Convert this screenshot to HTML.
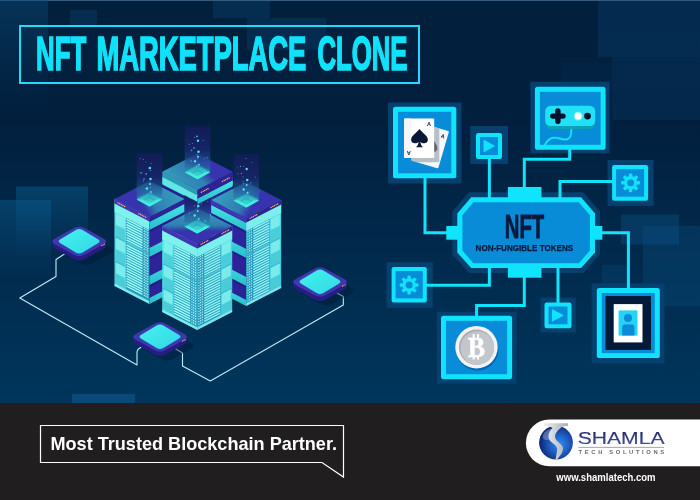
<!DOCTYPE html>
<html><head><meta charset="utf-8">
<style>
html,body{margin:0;padding:0;background:#201e1f;}
body{width:700px;height:500px;overflow:hidden;font-family:"Liberation Sans",sans-serif;}
svg{display:block;will-change:transform;}
text{font-family:"Liberation Sans",sans-serif;}
</style></head><body>
<svg width="700" height="500" viewBox="0 0 700 500">
<defs>
<linearGradient id="bg" x1="0" y1="0" x2="0" y2="1">
<stop offset="0" stop-color="#02203c"/>
<stop offset="0.3" stop-color="#021f3e"/>
<stop offset="1" stop-color="#00365c"/>
</linearGradient>
<linearGradient id="bgl" x1="0" y1="0" x2="0" y2="1">
<stop offset="0" stop-color="#0a4a78" stop-opacity="0.45"/>
<stop offset="1" stop-color="#0a4a78" stop-opacity="0"/>
</linearGradient>
<linearGradient id="sqf" x1="0" y1="0" x2="0" y2="1">
<stop offset="0" stop-color="#0a5a8c" stop-opacity="0.5"/>
<stop offset="1" stop-color="#0a5a8c" stop-opacity="0"/>
</linearGradient>
<radialGradient id="sph" cx="0.6" cy="0.55" r="0.62">
<stop offset="0" stop-color="#2f8cec"/><stop offset="0.45" stop-color="#1f5fc4"/><stop offset="1" stop-color="#0b1f6a"/>
</radialGradient>
<linearGradient id="silv" x1="0" y1="0" x2="1" y2="0">
<stop offset="0" stop-color="#eef0f2"/><stop offset="0.5" stop-color="#cdd0d5"/><stop offset="1" stop-color="#a6aab2"/>
</linearGradient>
<linearGradient id="shm" x1="0" y1="0" x2="0" y2="1">
<stop offset="0" stop-color="#1a1f5c"/><stop offset="1" stop-color="#4a58a8"/>
</linearGradient>
</defs>
<!-- BACKGROUND -->
<rect x="0" y="0" width="700" height="404" fill="url(#bg)"/>
<rect x="0" y="0" width="700" height="1" fill="#3f6d8e" opacity="0.8"/>
<rect x="0" y="0" width="48" height="105" fill="url(#bgl)"/>
<g id="bgsquares">
<rect x="70" y="10" width="27" height="15" fill="#0b4f86" opacity="0.28"/>
<rect x="213" y="1" width="57" height="17" fill="#0b4f86" opacity="0.28"/>
<rect x="247" y="18" width="79" height="32" fill="#0b4f86" opacity="0.25"/>
<rect x="598" y="1" width="102" height="56" fill="#0b4f86" opacity="0.26"/>
<rect x="612" y="57" width="88" height="63" fill="#0b4f86" opacity="0.2"/>
<rect x="561" y="63" width="51" height="30" fill="#0b4f86" opacity="0.1"/>
<rect x="16" y="186.600" width="72" height="70" fill="url(#sqf)"/>
<rect x="0" y="200" width="51" height="78" fill="url(#sqf)"/>
<rect x="621" y="214.500" width="58" height="30" fill="#0c5288" opacity="0.40"/>
<rect x="643" y="226" width="57" height="80" fill="#0c5288" opacity="0.30"/>
<rect x="602" y="265" width="28" height="20" fill="#0c5288" opacity="0.25"/>
<rect x="72" y="394" width="63" height="9" fill="#0c5a92" opacity="0.55"/>
</g>
<!-- TITLE -->
<rect x="20" y="26" width="399" height="57" fill="none" stroke="#1fdcf8" stroke-width="2"/>
<g id="title" font-size="47.4" font-weight="bold" fill="#10e2fb" stroke="#10e2fb" stroke-width="1.7" stroke-linejoin="miter">
<text x="36" y="69.5" textLength="50.2" lengthAdjust="spacingAndGlyphs">NFT</text>
<text x="96.4" y="69.5" textLength="210" lengthAdjust="spacingAndGlyphs">MARKETPLACE</text>
<text x="317.4" y="69.5" textLength="90" lengthAdjust="spacingAndGlyphs">CLONE</text>
</g>
<!-- SERVERS -->
<g id="servers">
<defs>
<linearGradient id="lfg" x1="0" y1="0" x2="0" y2="1"><stop offset="0" stop-color="#58e8e6"/><stop offset="1" stop-color="#3fd2d8"/></linearGradient>
<linearGradient id="rfc" x1="0" y1="0" x2="0" y2="1"><stop offset="0" stop-color="#49dae0"/><stop offset="1" stop-color="#38c6d6"/></linearGradient>
<linearGradient id="rfp" x1="0" y1="0" x2="0" y2="1"><stop offset="0" stop-color="#3026a0"/><stop offset="1" stop-color="#2a2296"/></linearGradient>
<linearGradient id="band" x1="0" y1="0" x2="0" y2="1"><stop offset="0" stop-color="#45e6e2"/><stop offset="1" stop-color="#28bccc"/></linearGradient>
<linearGradient id="topgR" x1="0" y1="0.65" x2="1" y2="0.35"><stop offset="0" stop-color="#3b31b2"/><stop offset="0.36" stop-color="#3634ac"/><stop offset="0.52" stop-color="#2f7fb2"/><stop offset="1" stop-color="#37a4c0"/></linearGradient>
<linearGradient id="topgL" x1="1" y1="0.65" x2="0" y2="0.35"><stop offset="0" stop-color="#3b31b2"/><stop offset="0.36" stop-color="#3634ac"/><stop offset="0.52" stop-color="#2f7fb2"/><stop offset="1" stop-color="#37a4c0"/></linearGradient>
<linearGradient id="topgB" x1="0.5" y1="1" x2="0.5" y2="0"><stop offset="0" stop-color="#3b31b2"/><stop offset="0.36" stop-color="#3634ac"/><stop offset="0.52" stop-color="#2f7fb2"/><stop offset="1" stop-color="#37a4c0"/></linearGradient>
<linearGradient id="topgF" x1="1" y1="0.3" x2="0" y2="0.8"><stop offset="0" stop-color="#3b31b2"/><stop offset="0.36" stop-color="#3634ac"/><stop offset="0.52" stop-color="#2f7fb2"/><stop offset="1" stop-color="#37a4c0"/></linearGradient>
<linearGradient id="beam" x1="0" y1="0" x2="0" y2="1"><stop offset="0" stop-color="#131c58" stop-opacity="0.9"/><stop offset="0.45" stop-color="#18256c" stop-opacity="0.85"/><stop offset="0.76" stop-color="#2468a2" stop-opacity="0.6"/><stop offset="1" stop-color="#38dcd8" stop-opacity="0.35"/></linearGradient>
<linearGradient id="padtop" x1="0" y1="0" x2="1" y2="1"><stop offset="0" stop-color="#44f2ee"/><stop offset="1" stop-color="#30d8e4"/></linearGradient>
</defs>
<g fill="none" stroke="#b4f2f8" stroke-width="1.1" stroke-linejoin="round">
<path d="M66 253L56 259.500V276.500L19.800 298L137 365V352Q137 349 142.700 346.500"/>
<path d="M174.300 348L182.500 353V366L210.300 381L343.300 305V296.400L336 292.500"/>
</g>
<path d="M61.9 253.3Q56.6 250.4 61.9 247.5L80.9 237.1Q86.2 234.2 91.5 237.1L110.5 247.5Q115.8 250.4 110.5 253.3L91.5 263.7Q86.2 266.6 80.9 263.7Z" fill="#011631" opacity="0.4"/>
<path d="M54.9 248.8Q49.6 245.9 54.9 243.0L73.9 232.6Q79.2 229.7 84.5 232.6L103.5 243.0Q108.8 245.9 103.5 248.8L84.5 259.2Q79.2 262.1 73.9 259.2Z" fill="#251d80"/>
<path d="M52.8 241.4V245.9H105.6V241.4Z" fill="#251d80"/>
<path d="M54.9 244.3Q49.6 241.4 54.9 238.5L73.9 228.1Q79.2 225.2 84.5 228.1L103.5 238.5Q108.8 241.4 103.5 244.3L84.5 254.7Q79.2 257.6 73.9 254.7Z" fill="#3d38b0"/>
<path d="M60.4 243.2Q57.0 241.2 60.4 239.2L75.8 230.0Q79.2 228.0 82.6 230.0L98.0 239.2Q101.4 241.2 98.0 243.2L82.6 252.4Q79.2 254.4 75.8 252.4Z" fill="url(#padtop)"/>
<circle cx="101.8" cy="245.6" r="0.6" fill="#ffb46a"/>
<circle cx="103.1" cy="244.9" r="0.6" fill="#ffb46a"/>
<circle cx="104.4" cy="244.2" r="0.6" fill="#ffb46a"/>
<path d="M162.5 171.7L197.5 189.7L197.5 276.7L162.5 258.7Z" fill="url(#rfp)"/>
<path d="M162.5 176.7L197.5 194.7L197.5 202.7L162.5 184.7Z" fill="url(#band)"/>
<path d="M162.5 184.7L197.5 202.7L197.5 205.2L162.5 187.2Z" fill="#1f1a78" opacity="0.55"/>
<path d="M162.5 202.7L197.5 220.7L197.5 229.7L162.5 211.7Z" fill="url(#band)"/>
<path d="M162.5 211.7L197.5 229.7L197.5 232.2L162.5 214.2Z" fill="#1f1a78" opacity="0.55"/>
<path d="M162.5 230.7L197.5 248.7L197.5 257.7L162.5 239.7Z" fill="url(#band)"/>
<path d="M162.5 239.7L197.5 257.7L197.5 260.2L162.5 242.2Z" fill="#1f1a78" opacity="0.55"/>
<path d="M162.5 252.7L197.5 270.7L197.5 276.7L162.5 258.7Z" fill="url(#band)"/>
<path d="M162.5 258.7L197.5 276.7L197.5 276.7L162.5 258.7Z" fill="#1f1a78" opacity="0.55"/>
<path d="M232.5 171.7L197.5 189.7L197.5 276.7L232.5 258.7Z" fill="url(#rfp)"/>
<path d="M232.5 176.7L197.5 194.7L197.5 202.7L232.5 184.7Z" fill="url(#band)"/>
<path d="M232.5 184.7L197.5 202.7L197.5 205.2L232.5 187.2Z" fill="#1f1a78" opacity="0.55"/>
<path d="M232.5 202.7L197.5 220.7L197.5 229.7L232.5 211.7Z" fill="url(#band)"/>
<path d="M232.5 211.7L197.5 229.7L197.5 232.2L232.5 214.2Z" fill="#1f1a78" opacity="0.55"/>
<path d="M232.5 230.7L197.5 248.7L197.5 257.7L232.5 239.7Z" fill="url(#band)"/>
<path d="M232.5 239.7L197.5 257.7L197.5 260.2L232.5 242.2Z" fill="#1f1a78" opacity="0.55"/>
<path d="M232.5 252.7L197.5 270.7L197.5 276.7L232.5 258.7Z" fill="url(#band)"/>
<path d="M232.5 258.7L197.5 276.7L197.5 276.7L232.5 258.7Z" fill="#1f1a78" opacity="0.55"/>
<path d="M162.5 171.7L197.5 189.7L197.5 194.2L162.5 176.2Z" fill="#4036b4"/>
<path d="M232.5 171.7L197.5 189.7L197.5 194.2L232.5 176.2Z" fill="#2c2394"/>
<path d="M162.5 171.7L197.5 189.7L197.5 195.2L162.5 177.2Z" fill="#2c9cb4"/>
<path d="M162.5 177.2L197.5 195.2L197.5 201.7L162.5 183.7Z" fill="#62e6e4"/>
<path d="M232.5 171.7L197.5 189.7L197.5 198.7L232.5 180.7Z" fill="#2c2394"/>
<path d="M232.5 180.7L197.5 198.7L197.5 204.2L232.5 186.2Z" fill="url(#band)"/>
<circle cx="229.0" cy="178.0" r="0.75" fill="#ffb066"/>
<circle cx="227.4" cy="178.8" r="0.75" fill="#ffb066"/>
<circle cx="225.7" cy="179.7" r="0.75" fill="#ffb066"/>
<circle cx="224.1" cy="180.5" r="0.75" fill="#ffb066"/>
<circle cx="222.4" cy="181.4" r="0.75" fill="#ffb066"/>
<circle cx="208.0" cy="188.8" r="0.75" fill="#ffb066"/>
<circle cx="206.4" cy="189.6" r="0.75" fill="#ffb066"/>
<circle cx="204.7" cy="190.5" r="0.75" fill="#ffb066"/>
<circle cx="203.1" cy="191.3" r="0.75" fill="#ffb066"/>
<circle cx="201.4" cy="192.2" r="0.75" fill="#ffb066"/>
<path d="M162.5 171.7L197.5 153.7L232.5 171.7L197.5 189.7Z" fill="url(#topgF)"/>
<path d="M184.7 170.7L197.5 163.7L210.3 170.7L197.5 177.7Z" fill="#1d8fae"/>
<path d="M184.7 172.2L197.5 165.2L210.3 172.2L197.5 179.2Z" fill="#3cefe0"/>
<path d="M191.5 173.2L197.5 170.2L203.5 173.2L197.5 176.2Z" fill="none" stroke="#16b5b8" stroke-width="0.8"/>
<path d="M114.5 199.0L149.5 217.0L149.5 304.0L114.5 286.0Z" fill="url(#lfg)"/>
<path d="M114.5 203.5L149.5 221.5L149.5 230.0L114.5 212.0Z" fill="#8ff5f0" opacity="0.75"/>
<path d="M126.0 217.9L149.0 229.7L149.0 300.7L126.0 288.9Z" fill="#1f7fae" opacity="0.72"/>
<path d="M115.9 213.2L125.0 217.9L125.0 229.1L115.9 224.4Z" fill="#86efee" opacity="0.85"/>
<path d="M115.9 225.4L125.0 230.1L125.0 241.3L115.9 236.6Z" fill="#4ecad8" opacity="0.80"/>
<path d="M115.9 237.6L125.0 242.3L125.0 253.5L115.9 248.8Z" fill="#86efee" opacity="0.85"/>
<path d="M115.9 249.8L125.0 254.5L125.0 265.7L115.9 261.0Z" fill="#4ecad8" opacity="0.80"/>
<path d="M115.9 262.0L125.0 266.7L125.0 277.9L115.9 273.2Z" fill="#86efee" opacity="0.85"/>
<path d="M115.9 274.2L125.0 278.9L125.0 287.9L115.9 283.2Z" fill="#4ecad8" opacity="0.80"/>
<path d="M126.4 219.3L142.5 227.6M126.4 221.9L142.5 230.2M126.4 224.5L142.5 232.7M126.4 227.0L142.5 235.3M126.4 229.6L142.5 237.9M126.4 232.2L142.5 240.5M126.4 234.7L142.5 243.0M126.4 237.3L142.5 245.6M126.4 239.9L142.5 248.2M126.4 242.4L142.5 250.7M126.4 245.0L142.5 253.3M126.4 247.6L142.5 255.9M126.4 250.2L142.5 258.4M126.4 252.7L142.5 261.0M126.4 255.3L142.5 263.6M126.4 257.9L142.5 266.1M126.4 260.4L142.5 268.7M126.4 263.0L142.5 271.3M126.4 265.6L142.5 273.9M126.4 268.1L142.5 276.4M126.4 270.7L142.5 279.0M126.4 273.3L142.5 281.6M126.4 275.9L142.5 284.1M126.4 278.4L142.5 286.7M126.4 281.0L142.5 289.3M126.4 283.6L142.5 291.8M126.4 286.1L142.5 294.4" stroke="#98fbf6" stroke-width="1.45" fill="none" opacity="1.00"/>
<path d="M143.7 228.2L148.6 230.8M143.7 230.8L148.6 233.3M143.7 233.4L148.6 235.9M143.7 235.9L148.6 238.5M143.7 238.5L148.6 241.0M143.7 241.1L148.6 243.6M143.7 243.7L148.6 246.2M143.7 246.2L148.6 248.7M143.7 248.8L148.6 251.3M143.7 251.4L148.6 253.9M143.7 253.9L148.6 256.4M143.7 256.5L148.6 259.0M143.7 259.1L148.6 261.6M143.7 261.6L148.6 264.2M143.7 264.2L148.6 266.7M143.7 266.8L148.6 269.3M143.7 269.4L148.6 271.9M143.7 271.9L148.6 274.4M143.7 274.5L148.6 277.0M143.7 277.1L148.6 279.6M143.7 279.6L148.6 282.1M143.7 282.2L148.6 284.7M143.7 284.8L148.6 287.3M143.7 287.3L148.6 289.9M143.7 289.9L148.6 292.4M143.7 292.5L148.6 295.0M143.7 295.0L148.6 297.6" stroke="#b8ffff" stroke-width="1.4" stroke-dasharray="1.15 0.85" fill="none" opacity="0.95"/>
<path d="M114.5 283.5L149.5 301.5L149.5 304.0L114.5 286.0Z" fill="#b8fffa" opacity="0.55"/>
<path d="M114.5 235.8L149.5 253.8L149.5 255.0L114.5 237.0Z" fill="#37b4c8" opacity="0.8"/>
<path d="M114.5 260.2L149.5 278.2L149.5 279.4L114.5 261.4Z" fill="#37b4c8" opacity="0.8"/>
<path d="M184.5 199.0L149.5 217.0L149.5 304.0L184.5 286.0Z" fill="url(#rfp)"/>
<path d="M184.5 204.0L149.5 222.0L149.5 230.0L184.5 212.0Z" fill="url(#band)"/>
<path d="M184.5 212.0L149.5 230.0L149.5 232.5L184.5 214.5Z" fill="#1f1a78" opacity="0.55"/>
<path d="M184.5 230.0L149.5 248.0L149.5 257.0L184.5 239.0Z" fill="url(#band)"/>
<path d="M184.5 239.0L149.5 257.0L149.5 259.5L184.5 241.5Z" fill="#1f1a78" opacity="0.55"/>
<path d="M184.5 258.0L149.5 276.0L149.5 285.0L184.5 267.0Z" fill="url(#band)"/>
<path d="M184.5 267.0L149.5 285.0L149.5 287.5L184.5 269.5Z" fill="#1f1a78" opacity="0.55"/>
<path d="M184.5 280.0L149.5 298.0L149.5 304.0L184.5 286.0Z" fill="url(#band)"/>
<path d="M184.5 286.0L149.5 304.0L149.5 304.0L184.5 286.0Z" fill="#1f1a78" opacity="0.55"/>
<path d="M114.5 199.0L149.5 217.0L149.5 221.5L114.5 203.5Z" fill="#4036b4"/>
<path d="M184.5 199.0L149.5 217.0L149.5 221.5L184.5 203.5Z" fill="#2c2394"/>
<circle cx="118.0" cy="203.0" r="0.75" fill="#ffb066"/>
<circle cx="119.6" cy="203.8" r="0.75" fill="#ffb066"/>
<circle cx="121.3" cy="204.7" r="0.75" fill="#ffb066"/>
<circle cx="122.9" cy="205.5" r="0.75" fill="#ffb066"/>
<circle cx="124.6" cy="206.4" r="0.75" fill="#ffb066"/>
<circle cx="139.0" cy="213.8" r="0.75" fill="#ffb066"/>
<circle cx="140.6" cy="214.6" r="0.75" fill="#ffb066"/>
<circle cx="142.3" cy="215.5" r="0.75" fill="#ffb066"/>
<circle cx="143.9" cy="216.3" r="0.75" fill="#ffb066"/>
<circle cx="145.6" cy="217.2" r="0.75" fill="#ffb066"/>
<path d="M114.5 199.0L149.5 181.0L184.5 199.0L149.5 217.0Z" fill="url(#topgR)"/>
<path d="M136.7 198.0L149.5 191.0L162.3 198.0L149.5 205.0Z" fill="#1d8fae"/>
<path d="M136.7 199.5L149.5 192.5L162.3 199.5L149.5 206.5Z" fill="#3cefe0"/>
<path d="M143.5 200.5L149.5 197.5L155.5 200.5L149.5 203.5Z" fill="none" stroke="#16b5b8" stroke-width="0.8"/>
<path d="M136.7 153.0H162.3V199.5L149.5 206.5L136.7 199.5Z" fill="url(#beam)"/>
<path d="M136.7 199.5L149.5 206.5L162.3 199.5L157.3 199.3L149.5 203.3L141.7 199.3Z" fill="#46f0e2" opacity="0.85"/>
<circle cx="150.0" cy="168.0" r="1.2" fill="#58e6fb" opacity="0.95"/>
<circle cx="150.5" cy="179.0" r="1.3" fill="#58e6fb" opacity="0.95"/>
<circle cx="150.0" cy="184.0" r="1.0" fill="#58e6fb" opacity="0.95"/>
<circle cx="147.0" cy="188.5" r="1.2" fill="#58e6fb" opacity="0.95"/>
<circle cx="151.0" cy="192.0" r="0.9" fill="#58e6fb" opacity="0.95"/>
<circle cx="145.7" cy="162.0" r="0.5" fill="#4fe9ff" opacity="0.49"/>
<circle cx="150.3" cy="170.6" r="0.5" fill="#4fe9ff" opacity="0.90"/>
<circle cx="143.3" cy="159.4" r="0.6" fill="#4fe9ff" opacity="0.48"/>
<circle cx="140.7" cy="173.0" r="0.8" fill="#4fe9ff" opacity="0.51"/>
<circle cx="143.5" cy="181.1" r="0.5" fill="#4fe9ff" opacity="0.74"/>
<circle cx="147.3" cy="195.1" r="0.5" fill="#4fe9ff" opacity="0.73"/>
<circle cx="141.6" cy="172.8" r="0.8" fill="#4fe9ff" opacity="0.51"/>
<circle cx="145.4" cy="188.6" r="0.5" fill="#4fe9ff" opacity="0.50"/>
<circle cx="151.0" cy="163.5" r="0.5" fill="#4fe9ff" opacity="0.72"/>
<circle cx="140.1" cy="158.4" r="0.5" fill="#4fe9ff" opacity="0.70"/>
<circle cx="150.2" cy="187.1" r="0.6" fill="#4fe9ff" opacity="0.74"/>
<circle cx="148.5" cy="168.0" r="0.5" fill="#4fe9ff" opacity="0.80"/>
<circle cx="144.0" cy="179.0" r="0.8" fill="#4fe9ff" opacity="0.70"/>
<circle cx="146.1" cy="174.0" r="0.8" fill="#4fe9ff" opacity="0.94"/>
<path d="M211.2 200.0L246.2 218.0L246.2 306.0L211.2 288.0Z" fill="url(#rfp)"/>
<path d="M211.2 205.0L246.2 223.0L246.2 231.0L211.2 213.0Z" fill="url(#band)"/>
<path d="M211.2 213.0L246.2 231.0L246.2 233.5L211.2 215.5Z" fill="#1f1a78" opacity="0.55"/>
<path d="M211.2 231.0L246.2 249.0L246.2 258.0L211.2 240.0Z" fill="url(#band)"/>
<path d="M211.2 240.0L246.2 258.0L246.2 260.5L211.2 242.5Z" fill="#1f1a78" opacity="0.55"/>
<path d="M211.2 259.0L246.2 277.0L246.2 286.0L211.2 268.0Z" fill="url(#band)"/>
<path d="M211.2 268.0L246.2 286.0L246.2 288.5L211.2 270.5Z" fill="#1f1a78" opacity="0.55"/>
<path d="M211.2 282.0L246.2 300.0L246.2 306.0L211.2 288.0Z" fill="url(#band)"/>
<path d="M211.2 288.0L246.2 306.0L246.2 306.0L211.2 288.0Z" fill="#1f1a78" opacity="0.55"/>
<path d="M281.2 200.0L246.2 218.0L246.2 306.0L281.2 288.0Z" fill="url(#rfc)"/>
<path d="M281.2 204.5L246.2 222.5L246.2 231.0L281.2 213.0Z" fill="#8ff5f0" opacity="0.75"/>
<path d="M269.6 218.9L246.7 230.7L246.7 302.7L269.6 290.9Z" fill="#1f7fae" opacity="0.72"/>
<path d="M279.8 214.2L270.7 218.9L270.7 230.1L279.8 225.4Z" fill="#86efee" opacity="0.85"/>
<path d="M279.8 226.4L270.7 231.1L270.7 242.3L279.8 237.6Z" fill="#4ecad8" opacity="0.80"/>
<path d="M279.8 238.6L270.7 243.3L270.7 254.5L279.8 249.8Z" fill="#86efee" opacity="0.85"/>
<path d="M279.8 250.8L270.7 255.5L270.7 266.7L279.8 262.0Z" fill="#4ecad8" opacity="0.80"/>
<path d="M279.8 263.0L270.7 267.7L270.7 278.9L279.8 274.2Z" fill="#86efee" opacity="0.85"/>
<path d="M279.8 275.2L270.7 279.9L270.7 289.9L279.8 285.2Z" fill="#4ecad8" opacity="0.80"/>
<path d="M269.3 220.3L253.2 228.6M269.3 222.9L253.2 231.2M269.3 225.5L253.2 233.7M269.3 228.0L253.2 236.3M269.3 230.6L253.2 238.9M269.3 233.2L253.2 241.5M269.3 235.7L253.2 244.0M269.3 238.3L253.2 246.6M269.3 240.9L253.2 249.2M269.3 243.4L253.2 251.7M269.3 246.0L253.2 254.3M269.3 248.6L253.2 256.9M269.3 251.2L253.2 259.4M269.3 253.7L253.2 262.0M269.3 256.3L253.2 264.6M269.3 258.9L253.2 267.1M269.3 261.4L253.2 269.7M269.3 264.0L253.2 272.3M269.3 266.6L253.2 274.9M269.3 269.1L253.2 277.4M269.3 271.7L253.2 280.0M269.3 274.3L253.2 282.6M269.3 276.9L253.2 285.1M269.3 279.4L253.2 287.7M269.3 282.0L253.2 290.3M269.3 284.6L253.2 292.8M269.3 287.1L253.2 295.4M269.3 289.7L253.2 298.0" stroke="#98fbf6" stroke-width="1.45" fill="none" opacity="0.90"/>
<path d="M252.0 229.2L247.1 231.8M252.0 231.8L247.1 234.3M252.0 234.4L247.1 236.9M252.0 236.9L247.1 239.5M252.0 239.5L247.1 242.0M252.0 242.1L247.1 244.6M252.0 244.7L247.1 247.2M252.0 247.2L247.1 249.7M252.0 249.8L247.1 252.3M252.0 252.4L247.1 254.9M252.0 254.9L247.1 257.4M252.0 257.5L247.1 260.0M252.0 260.1L247.1 262.6M252.0 262.6L247.1 265.2M252.0 265.2L247.1 267.7M252.0 267.8L247.1 270.3M252.0 270.4L247.1 272.9M252.0 272.9L247.1 275.4M252.0 275.5L247.1 278.0M252.0 278.1L247.1 280.6M252.0 280.6L247.1 283.1M252.0 283.2L247.1 285.7M252.0 285.8L247.1 288.3M252.0 288.3L247.1 290.9M252.0 290.9L247.1 293.4M252.0 293.5L247.1 296.0M252.0 296.0L247.1 298.6M252.0 298.6L247.1 301.1" stroke="#b8ffff" stroke-width="1.4" stroke-dasharray="1.15 0.85" fill="none" opacity="0.85"/>
<path d="M281.2 285.5L246.2 303.5L246.2 306.0L281.2 288.0Z" fill="#b8fffa" opacity="0.55"/>
<path d="M281.2 236.8L246.2 254.8L246.2 256.0L281.2 238.0Z" fill="#37b4c8" opacity="0.8"/>
<path d="M281.2 261.2L246.2 279.2L246.2 280.4L281.2 262.4Z" fill="#37b4c8" opacity="0.8"/>
<path d="M211.2 200.0L246.2 218.0L246.2 222.5L211.2 204.5Z" fill="#4036b4"/>
<path d="M281.2 200.0L246.2 218.0L246.2 222.5L281.2 204.5Z" fill="#2c2394"/>
<circle cx="277.7" cy="204.0" r="0.75" fill="#ffb066"/>
<circle cx="276.1" cy="204.8" r="0.75" fill="#ffb066"/>
<circle cx="274.4" cy="205.7" r="0.75" fill="#ffb066"/>
<circle cx="272.8" cy="206.5" r="0.75" fill="#ffb066"/>
<circle cx="271.1" cy="207.4" r="0.75" fill="#ffb066"/>
<circle cx="256.7" cy="214.8" r="0.75" fill="#ffb066"/>
<circle cx="255.1" cy="215.6" r="0.75" fill="#ffb066"/>
<circle cx="253.4" cy="216.5" r="0.75" fill="#ffb066"/>
<circle cx="251.8" cy="217.3" r="0.75" fill="#ffb066"/>
<circle cx="250.1" cy="218.2" r="0.75" fill="#ffb066"/>
<path d="M211.2 200.0L246.2 182.0L281.2 200.0L246.2 218.0Z" fill="url(#topgL)"/>
<path d="M233.4 199.0L246.2 192.0L259.0 199.0L246.2 206.0Z" fill="#1d8fae"/>
<path d="M233.4 200.5L246.2 193.5L259.0 200.5L246.2 207.5Z" fill="#3cefe0"/>
<path d="M240.2 201.5L246.2 198.5L252.2 201.5L246.2 204.5Z" fill="none" stroke="#16b5b8" stroke-width="0.8"/>
<path d="M233.4 154.0H259.0V200.5L246.2 207.5L233.4 200.5Z" fill="url(#beam)"/>
<path d="M233.4 200.5L246.2 207.5L259.0 200.5L254.0 200.3L246.2 204.3L238.4 200.3Z" fill="#46f0e2" opacity="0.85"/>
<circle cx="246.7" cy="169.0" r="1.2" fill="#58e6fb" opacity="0.95"/>
<circle cx="247.2" cy="180.0" r="1.3" fill="#58e6fb" opacity="0.95"/>
<circle cx="246.7" cy="185.0" r="1.0" fill="#58e6fb" opacity="0.95"/>
<circle cx="243.7" cy="189.5" r="1.2" fill="#58e6fb" opacity="0.95"/>
<circle cx="247.7" cy="193.0" r="0.9" fill="#58e6fb" opacity="0.95"/>
<circle cx="238.0" cy="173.7" r="0.6" fill="#4fe9ff" opacity="0.53"/>
<circle cx="246.0" cy="158.6" r="0.5" fill="#4fe9ff" opacity="0.83"/>
<circle cx="247.8" cy="192.0" r="0.6" fill="#4fe9ff" opacity="0.62"/>
<circle cx="243.0" cy="176.9" r="0.6" fill="#4fe9ff" opacity="0.48"/>
<circle cx="237.4" cy="167.8" r="0.5" fill="#4fe9ff" opacity="0.48"/>
<circle cx="250.6" cy="182.9" r="0.6" fill="#4fe9ff" opacity="0.59"/>
<circle cx="243.7" cy="183.7" r="0.5" fill="#4fe9ff" opacity="0.92"/>
<circle cx="243.1" cy="181.4" r="0.6" fill="#4fe9ff" opacity="0.48"/>
<circle cx="252.0" cy="162.2" r="0.5" fill="#4fe9ff" opacity="0.65"/>
<circle cx="255.2" cy="176.9" r="0.5" fill="#4fe9ff" opacity="0.67"/>
<circle cx="247.3" cy="192.3" r="0.6" fill="#4fe9ff" opacity="0.88"/>
<circle cx="241.4" cy="173.6" r="0.6" fill="#4fe9ff" opacity="0.79"/>
<circle cx="243.6" cy="166.2" r="0.5" fill="#4fe9ff" opacity="0.54"/>
<circle cx="240.4" cy="166.3" r="0.6" fill="#4fe9ff" opacity="0.87"/>
<path d="M162.2 226.0L197.2 244.0L197.2 330.0L162.2 312.0Z" fill="url(#lfg)"/>
<path d="M162.2 230.5L197.2 248.5L197.2 257.0L162.2 239.0Z" fill="#8ff5f0" opacity="0.75"/>
<path d="M173.8 244.9L196.7 256.7L196.7 326.7L173.8 314.9Z" fill="#1f7fae" opacity="0.72"/>
<path d="M163.6 240.2L172.7 244.9L172.7 256.1L163.6 251.4Z" fill="#86efee" opacity="0.85"/>
<path d="M163.6 252.4L172.7 257.1L172.7 268.3L163.6 263.6Z" fill="#4ecad8" opacity="0.80"/>
<path d="M163.6 264.6L172.7 269.3L172.7 280.5L163.6 275.8Z" fill="#86efee" opacity="0.85"/>
<path d="M163.6 276.8L172.7 281.5L172.7 292.7L163.6 288.0Z" fill="#4ecad8" opacity="0.80"/>
<path d="M163.6 289.0L172.7 293.7L172.7 304.9L163.6 300.2Z" fill="#86efee" opacity="0.85"/>
<path d="M163.6 301.2L172.7 305.9L172.7 313.9L163.6 309.2Z" fill="#4ecad8" opacity="0.80"/>
<path d="M174.1 246.3L190.2 254.6M174.1 248.9L190.2 257.2M174.1 251.5L190.2 259.7M174.1 254.0L190.2 262.3M174.1 256.6L190.2 264.9M174.1 259.2L190.2 267.4M174.1 261.7L190.2 270.0M174.1 264.3L190.2 272.6M174.1 266.9L190.2 275.2M174.1 269.4L190.2 277.7M174.1 272.0L190.2 280.3M174.1 274.6L190.2 282.9M174.1 277.2L190.2 285.4M174.1 279.7L190.2 288.0M174.1 282.3L190.2 290.6M174.1 284.9L190.2 293.1M174.1 287.4L190.2 295.7M174.1 290.0L190.2 298.3M174.1 292.6L190.2 300.9M174.1 295.1L190.2 303.4M174.1 297.7L190.2 306.0M174.1 300.3L190.2 308.6M174.1 302.9L190.2 311.1M174.1 305.4L190.2 313.7M174.1 308.0L190.2 316.3M174.1 310.6L190.2 318.8M174.1 313.1L190.2 321.4" stroke="#98fbf6" stroke-width="1.45" fill="none" opacity="1.00"/>
<path d="M191.4 255.2L196.3 257.8M191.4 257.8L196.3 260.3M191.4 260.4L196.3 262.9M191.4 262.9L196.3 265.5M191.4 265.5L196.3 268.0M191.4 268.1L196.3 270.6M191.4 270.6L196.3 273.2M191.4 273.2L196.3 275.7M191.4 275.8L196.3 278.3M191.4 278.4L196.3 280.9M191.4 280.9L196.3 283.4M191.4 283.5L196.3 286.0M191.4 286.1L196.3 288.6M191.4 288.6L196.3 291.2M191.4 291.2L196.3 293.7M191.4 293.8L196.3 296.3M191.4 296.4L196.3 298.9M191.4 298.9L196.3 301.4M191.4 301.5L196.3 304.0M191.4 304.1L196.3 306.6M191.4 306.6L196.3 309.1M191.4 309.2L196.3 311.7M191.4 311.8L196.3 314.3M191.4 314.3L196.3 316.9M191.4 316.9L196.3 319.4M191.4 319.5L196.3 322.0M191.4 322.0L196.3 324.6" stroke="#b8ffff" stroke-width="1.4" stroke-dasharray="1.15 0.85" fill="none" opacity="0.95"/>
<path d="M162.2 309.5L197.2 327.5L197.2 330.0L162.2 312.0Z" fill="#b8fffa" opacity="0.55"/>
<path d="M162.2 262.8L197.2 280.8L197.2 282.0L162.2 264.0Z" fill="#37b4c8" opacity="0.8"/>
<path d="M162.2 287.2L197.2 305.2L197.2 306.4L162.2 288.4Z" fill="#37b4c8" opacity="0.8"/>
<path d="M232.2 226.0L197.2 244.0L197.2 330.0L232.2 312.0Z" fill="url(#rfc)"/>
<path d="M232.2 230.5L197.2 248.5L197.2 257.0L232.2 239.0Z" fill="#8ff5f0" opacity="0.75"/>
<path d="M220.6 244.9L197.7 256.7L197.7 326.7L220.6 314.9Z" fill="#1f7fae" opacity="0.72"/>
<path d="M230.8 240.2L221.7 244.9L221.7 256.1L230.8 251.4Z" fill="#86efee" opacity="0.85"/>
<path d="M230.8 252.4L221.7 257.1L221.7 268.3L230.8 263.6Z" fill="#4ecad8" opacity="0.80"/>
<path d="M230.8 264.6L221.7 269.3L221.7 280.5L230.8 275.8Z" fill="#86efee" opacity="0.85"/>
<path d="M230.8 276.8L221.7 281.5L221.7 292.7L230.8 288.0Z" fill="#4ecad8" opacity="0.80"/>
<path d="M230.8 289.0L221.7 293.7L221.7 304.9L230.8 300.2Z" fill="#86efee" opacity="0.85"/>
<path d="M230.8 301.2L221.7 305.9L221.7 313.9L230.8 309.2Z" fill="#4ecad8" opacity="0.80"/>
<path d="M220.3 246.3L204.2 254.6M220.3 248.9L204.2 257.2M220.3 251.5L204.2 259.7M220.3 254.0L204.2 262.3M220.3 256.6L204.2 264.9M220.3 259.2L204.2 267.4M220.3 261.7L204.2 270.0M220.3 264.3L204.2 272.6M220.3 266.9L204.2 275.2M220.3 269.4L204.2 277.7M220.3 272.0L204.2 280.3M220.3 274.6L204.2 282.9M220.3 277.2L204.2 285.4M220.3 279.7L204.2 288.0M220.3 282.3L204.2 290.6M220.3 284.9L204.2 293.1M220.3 287.4L204.2 295.7M220.3 290.0L204.2 298.3M220.3 292.6L204.2 300.9M220.3 295.1L204.2 303.4M220.3 297.7L204.2 306.0M220.3 300.3L204.2 308.6M220.3 302.9L204.2 311.1M220.3 305.4L204.2 313.7M220.3 308.0L204.2 316.3M220.3 310.6L204.2 318.8M220.3 313.1L204.2 321.4" stroke="#98fbf6" stroke-width="1.45" fill="none" opacity="0.90"/>
<path d="M203.0 255.2L198.1 257.8M203.0 257.8L198.1 260.3M203.0 260.4L198.1 262.9M203.0 262.9L198.1 265.5M203.0 265.5L198.1 268.0M203.0 268.1L198.1 270.6M203.0 270.6L198.1 273.2M203.0 273.2L198.1 275.7M203.0 275.8L198.1 278.3M203.0 278.4L198.1 280.9M203.0 280.9L198.1 283.4M203.0 283.5L198.1 286.0M203.0 286.1L198.1 288.6M203.0 288.6L198.1 291.2M203.0 291.2L198.1 293.7M203.0 293.8L198.1 296.3M203.0 296.4L198.1 298.9M203.0 298.9L198.1 301.4M203.0 301.5L198.1 304.0M203.0 304.1L198.1 306.6M203.0 306.6L198.1 309.1M203.0 309.2L198.1 311.7M203.0 311.8L198.1 314.3M203.0 314.3L198.1 316.9M203.0 316.9L198.1 319.4M203.0 319.5L198.1 322.0M203.0 322.0L198.1 324.6" stroke="#b8ffff" stroke-width="1.4" stroke-dasharray="1.15 0.85" fill="none" opacity="0.85"/>
<path d="M232.2 309.5L197.2 327.5L197.2 330.0L232.2 312.0Z" fill="#b8fffa" opacity="0.55"/>
<path d="M232.2 262.8L197.2 280.8L197.2 282.0L232.2 264.0Z" fill="#37b4c8" opacity="0.8"/>
<path d="M232.2 287.2L197.2 305.2L197.2 306.4L232.2 288.4Z" fill="#37b4c8" opacity="0.8"/>
<path d="M162.2 226.0L197.2 244.0L197.2 248.5L162.2 230.5Z" fill="#4036b4"/>
<path d="M232.2 226.0L197.2 244.0L197.2 248.5L232.2 230.5Z" fill="#2c2394"/>
<circle cx="228.7" cy="230.0" r="0.75" fill="#ffb066"/>
<circle cx="227.1" cy="230.8" r="0.75" fill="#ffb066"/>
<circle cx="225.4" cy="231.7" r="0.75" fill="#ffb066"/>
<circle cx="223.8" cy="232.5" r="0.75" fill="#ffb066"/>
<circle cx="222.1" cy="233.4" r="0.75" fill="#ffb066"/>
<circle cx="207.7" cy="240.8" r="0.75" fill="#ffb066"/>
<circle cx="206.1" cy="241.6" r="0.75" fill="#ffb066"/>
<circle cx="204.4" cy="242.5" r="0.75" fill="#ffb066"/>
<circle cx="202.8" cy="243.3" r="0.75" fill="#ffb066"/>
<circle cx="201.1" cy="244.2" r="0.75" fill="#ffb066"/>
<path d="M162.2 226.0L197.2 208.0L232.2 226.0L197.2 244.0Z" fill="url(#topgB)"/>
<path d="M184.4 225.0L197.2 218.0L210.0 225.0L197.2 232.0Z" fill="#1d8fae"/>
<path d="M184.4 226.5L197.2 219.5L210.0 226.5L197.2 233.5Z" fill="#3cefe0"/>
<path d="M191.2 227.5L197.2 224.5L203.2 227.5L197.2 230.5Z" fill="none" stroke="#16b5b8" stroke-width="0.8"/>
<path d="M184.4 180.0H210.0V226.5L197.2 233.5L184.4 226.5Z" fill="url(#beam)"/>
<path d="M184.4 226.5L197.2 233.5L210.0 226.5L205.0 226.3L197.2 230.3L189.4 226.3Z" fill="#46f0e2" opacity="0.85"/>
<circle cx="197.7" cy="195.0" r="1.2" fill="#58e6fb" opacity="0.95"/>
<circle cx="198.2" cy="206.0" r="1.3" fill="#58e6fb" opacity="0.95"/>
<circle cx="197.7" cy="211.0" r="1.0" fill="#58e6fb" opacity="0.95"/>
<circle cx="194.7" cy="215.5" r="1.2" fill="#58e6fb" opacity="0.95"/>
<circle cx="198.7" cy="219.0" r="0.9" fill="#58e6fb" opacity="0.95"/>
<circle cx="190.3" cy="194.3" r="0.5" fill="#4fe9ff" opacity="0.66"/>
<circle cx="194.4" cy="205.7" r="0.5" fill="#4fe9ff" opacity="0.80"/>
<circle cx="197.5" cy="207.7" r="0.5" fill="#4fe9ff" opacity="0.68"/>
<circle cx="205.2" cy="221.1" r="0.8" fill="#4fe9ff" opacity="0.65"/>
<circle cx="195.0" cy="187.1" r="0.6" fill="#4fe9ff" opacity="0.48"/>
<circle cx="187.9" cy="191.4" r="0.5" fill="#4fe9ff" opacity="0.50"/>
<circle cx="199.4" cy="187.1" r="0.8" fill="#4fe9ff" opacity="0.53"/>
<circle cx="188.6" cy="197.5" r="0.5" fill="#4fe9ff" opacity="0.49"/>
<circle cx="190.9" cy="198.0" r="0.6" fill="#4fe9ff" opacity="0.93"/>
<circle cx="199.4" cy="202.0" r="0.5" fill="#4fe9ff" opacity="0.87"/>
<circle cx="207.9" cy="201.6" r="0.6" fill="#4fe9ff" opacity="0.61"/>
<circle cx="189.5" cy="213.0" r="0.6" fill="#4fe9ff" opacity="0.69"/>
<circle cx="201.3" cy="203.7" r="0.5" fill="#4fe9ff" opacity="0.93"/>
<circle cx="197.8" cy="188.9" r="0.8" fill="#4fe9ff" opacity="0.91"/>
<path d="M162.5 171.7L197.5 189.7L197.5 194.2L162.5 176.2Z" fill="#4036b4"/>
<path d="M232.5 171.7L197.5 189.7L197.5 194.2L232.5 176.2Z" fill="#2c2394"/>
<path d="M162.5 171.7L197.5 189.7L197.5 195.2L162.5 177.2Z" fill="#2c9cb4"/>
<path d="M162.5 177.2L197.5 195.2L197.5 201.7L162.5 183.7Z" fill="#62e6e4"/>
<path d="M232.5 171.7L197.5 189.7L197.5 198.7L232.5 180.7Z" fill="#2c2394"/>
<path d="M232.5 180.7L197.5 198.7L197.5 204.2L232.5 186.2Z" fill="url(#band)"/>
<circle cx="229.0" cy="178.0" r="0.75" fill="#ffb066"/>
<circle cx="227.4" cy="178.8" r="0.75" fill="#ffb066"/>
<circle cx="225.7" cy="179.7" r="0.75" fill="#ffb066"/>
<circle cx="224.1" cy="180.5" r="0.75" fill="#ffb066"/>
<circle cx="222.4" cy="181.4" r="0.75" fill="#ffb066"/>
<circle cx="208.0" cy="188.8" r="0.75" fill="#ffb066"/>
<circle cx="206.4" cy="189.6" r="0.75" fill="#ffb066"/>
<circle cx="204.7" cy="190.5" r="0.75" fill="#ffb066"/>
<circle cx="203.1" cy="191.3" r="0.75" fill="#ffb066"/>
<circle cx="201.4" cy="192.2" r="0.75" fill="#ffb066"/>
<path d="M162.5 171.7L197.5 153.7L232.5 171.7L197.5 189.7Z" fill="url(#topgF)"/>
<path d="M184.7 170.7L197.5 163.7L210.3 170.7L197.5 177.7Z" fill="#1d8fae"/>
<path d="M184.7 172.2L197.5 165.2L210.3 172.2L197.5 179.2Z" fill="#3cefe0"/>
<path d="M191.5 173.2L197.5 170.2L203.5 173.2L197.5 176.2Z" fill="none" stroke="#16b5b8" stroke-width="0.8"/>
<path d="M184.7 125.7H210.3V172.2L197.5 179.2L184.7 172.2Z" fill="url(#beam)"/>
<path d="M184.7 172.2L197.5 179.2L210.3 172.2L205.3 172.0L197.5 176.0L189.7 172.0Z" fill="#46f0e2" opacity="0.85"/>
<circle cx="198.0" cy="140.7" r="1.2" fill="#58e6fb" opacity="0.95"/>
<circle cx="198.5" cy="151.7" r="1.3" fill="#58e6fb" opacity="0.95"/>
<circle cx="198.0" cy="156.7" r="1.0" fill="#58e6fb" opacity="0.95"/>
<circle cx="195.0" cy="161.2" r="1.2" fill="#58e6fb" opacity="0.95"/>
<circle cx="199.0" cy="164.7" r="0.9" fill="#58e6fb" opacity="0.95"/>
<circle cx="203.1" cy="140.6" r="0.5" fill="#4fe9ff" opacity="0.80"/>
<circle cx="192.3" cy="143.4" r="0.5" fill="#4fe9ff" opacity="0.63"/>
<circle cx="191.5" cy="150.4" r="0.8" fill="#4fe9ff" opacity="0.61"/>
<circle cx="191.5" cy="161.2" r="0.5" fill="#4fe9ff" opacity="0.85"/>
<circle cx="204.4" cy="158.3" r="0.5" fill="#4fe9ff" opacity="0.55"/>
<circle cx="197.3" cy="157.9" r="0.5" fill="#4fe9ff" opacity="0.85"/>
<circle cx="196.9" cy="136.4" r="0.8" fill="#4fe9ff" opacity="0.93"/>
<circle cx="196.4" cy="166.2" r="0.6" fill="#4fe9ff" opacity="0.93"/>
<circle cx="194.6" cy="137.5" r="0.5" fill="#4fe9ff" opacity="0.69"/>
<circle cx="194.0" cy="148.0" r="0.8" fill="#4fe9ff" opacity="0.87"/>
<circle cx="197.1" cy="154.8" r="0.5" fill="#4fe9ff" opacity="0.87"/>
<circle cx="189.3" cy="144.2" r="0.5" fill="#4fe9ff" opacity="0.69"/>
<circle cx="190.6" cy="160.3" r="0.6" fill="#4fe9ff" opacity="0.49"/>
<circle cx="207.1" cy="157.6" r="0.6" fill="#4fe9ff" opacity="0.65"/>
<path d="M142.7 348.8Q137.4 345.9 142.7 343.0L161.7 332.6Q167.0 329.7 172.3 332.6L191.3 343.0Q196.6 345.9 191.3 348.8L172.3 359.2Q167.0 362.1 161.7 359.2Z" fill="#011631" opacity="0.4"/>
<path d="M135.7 344.3Q130.4 341.4 135.7 338.5L154.7 328.1Q160.0 325.2 165.3 328.1L184.3 338.5Q189.6 341.4 184.3 344.3L165.3 354.7Q160.0 357.6 154.7 354.7Z" fill="#251d80"/>
<path d="M133.6 336.9V341.4H186.4V336.9Z" fill="#251d80"/>
<path d="M135.7 339.8Q130.4 336.9 135.7 334.0L154.7 323.6Q160.0 320.7 165.3 323.6L184.3 334.0Q189.6 336.9 184.3 339.8L165.3 350.2Q160.0 353.1 154.7 350.2Z" fill="#3d38b0"/>
<path d="M141.2 338.7Q137.8 336.7 141.2 334.7L156.6 325.5Q160.0 323.5 163.4 325.5L178.8 334.7Q182.2 336.7 178.8 338.7L163.4 347.9Q160.0 349.9 156.6 347.9Z" fill="url(#padtop)"/>
<circle cx="182.6" cy="341.1" r="0.6" fill="#ffb46a"/>
<circle cx="183.9" cy="340.4" r="0.6" fill="#ffb46a"/>
<circle cx="185.2" cy="339.7" r="0.6" fill="#ffb46a"/>
<path d="M302.7 293.9Q297.4 291.0 302.7 288.1L321.7 277.7Q327.0 274.8 332.3 277.7L351.3 288.1Q356.6 291.0 351.3 293.9L332.3 304.3Q327.0 307.2 321.7 304.3Z" fill="#011631" opacity="0.4"/>
<path d="M295.7 289.4Q290.4 286.5 295.7 283.6L314.7 273.2Q320.0 270.3 325.3 273.2L344.3 283.6Q349.6 286.5 344.3 289.4L325.3 299.8Q320.0 302.7 314.7 299.8Z" fill="#251d80"/>
<path d="M293.6 282.0V286.5H346.4V282.0Z" fill="#251d80"/>
<path d="M295.7 284.9Q290.4 282.0 295.7 279.1L314.7 268.7Q320.0 265.8 325.3 268.7L344.3 279.1Q349.6 282.0 344.3 284.9L325.3 295.3Q320.0 298.2 314.7 295.3Z" fill="#3d38b0"/>
<path d="M301.2 283.8Q297.8 281.8 301.2 279.8L316.6 270.6Q320.0 268.6 323.4 270.6L338.8 279.8Q342.2 281.8 338.8 283.8L323.4 293.0Q320.0 295.0 316.6 293.0Z" fill="url(#padtop)"/>
<circle cx="342.6" cy="286.2" r="0.6" fill="#ffb46a"/>
<circle cx="343.9" cy="285.5" r="0.6" fill="#ffb46a"/>
<circle cx="345.2" cy="284.8" r="0.6" fill="#ffb46a"/>
</g>
<!-- DIAGRAM -->
<g id="diagram">
<g fill="#05406e">
<rect x="388.0" y="102.5" width="73.5" height="81.0"/>
<rect x="470.2" y="126.0" width="37.8" height="38.0"/>
<rect x="530.4" y="81.8" width="79.2" height="71.6"/>
<rect x="607.5" y="160.0" width="46.1" height="45.9"/>
<rect x="386.6" y="262.2" width="46.2" height="45.6"/>
<rect x="437.0" y="311.7" width="79.6" height="72.0"/>
<rect x="540.5" y="297.5" width="35.3" height="35.0"/>
<rect x="591.6" y="283.4" width="72.9" height="80.1"/>
<path d="M452.300 211.500L468.900 192.300H583.400L600 211.500V254.400L583.300 272.900H469L452.300 254.400Z"/>
</g>
<g fill="none" stroke="#10e4fc" stroke-width="3" stroke-linejoin="miter">
<path d="M425 177V232.700H447"/>
<path d="M489.400 158V198"/>
<path d="M569.700 149V159.300H524.300V188"/>
<path d="M613 181.400H560V198"/>
<path d="M602 232.700H628.400V289"/>
<path d="M426 285.200H489.400V267"/>
<path d="M524.300 277V305.400H476.600V317"/>
<path d="M558 267V303.500"/>
</g>
<g fill="#10e4fc">
<rect x="507.900" y="187" width="33.600" height="12"/>
<rect x="507.900" y="266" width="33.600" height="11.700"/>
<rect x="446.300" y="226" width="12" height="13.700"/>
<rect x="593" y="226" width="9.300" height="13.700"/>
<path d="M457.300 213.400L471.200 197.300H581.100L595 213.400V252.500L581.100 267.900H471.200L457.300 252.500Z"/>
</g>
<path d="M462.400 215.300L473.500 202.200H578.800L589.900 215.300V250.600L578.800 263.200H473.500L462.400 250.600Z" fill="#088cd8"/>
<text x="504.800" y="237.500" font-size="32.500" font-weight="bold" stroke="#071a3c" stroke-width="0.9" fill="#071a3c" textLength="39.400" lengthAdjust="spacingAndGlyphs">NFT</text>
<text x="475.600" y="250.700" font-size="8.500" font-weight="bold" stroke="#071a3c" stroke-width="0.25" fill="#071a3c" textLength="97.500" lengthAdjust="spacingAndGlyphs">NON-FUNGIBLE TOKENS</text>
<rect x="393.00" y="106.80" width="63.30" height="71.50" rx="2.6" fill="#10e4fc"/>
<rect x="398.00" y="111.80" width="53.30" height="61.50" fill="#088cd8"/>
<rect x="476.00" y="133.00" width="26.00" height="26.00" rx="2.2" fill="#10e4fc"/>
<rect x="480.00" y="137.00" width="18.00" height="18.00" fill="#088cd8"/>
<rect x="534.90" y="86.80" width="70.70" height="63.00" rx="2.6" fill="#10e4fc"/>
<rect x="539.90" y="91.80" width="60.70" height="53.00" fill="#088cd8"/>
<rect x="612.10" y="165.10" width="36.00" height="35.60" rx="2.2" fill="#10e4fc"/>
<rect x="616.10" y="169.10" width="28.00" height="27.60" fill="#088cd8"/>
<rect x="391.60" y="267.00" width="35.20" height="35.40" rx="2.2" fill="#10e4fc"/>
<rect x="395.60" y="271.00" width="27.20" height="27.40" fill="#088cd8"/>
<rect x="441.00" y="315.80" width="71.10" height="63.40" rx="2.6" fill="#10e4fc"/>
<rect x="446.00" y="320.80" width="61.10" height="53.40" fill="#088cd8"/>
<rect x="544.50" y="302.50" width="27.00" height="25.80" rx="2.2" fill="#10e4fc"/>
<rect x="548.50" y="306.50" width="19.00" height="17.80" fill="#088cd8"/>
<rect x="596.80" y="288.00" width="63.00" height="70.10" rx="2.6" fill="#10e4fc"/>
<rect x="601.80" y="293.00" width="53.00" height="60.10" fill="#088cd8"/>
<path d="M484.1 140.5V151.5L494.0 146.0Z" fill="#10e4fc" stroke="#10e4fc" stroke-width="1.2" stroke-linejoin="round"/>
<path d="M552.6 310.0V320.8L562.8 315.4Z" fill="#10e4fc" stroke="#10e4fc" stroke-width="1.2" stroke-linejoin="round"/>
<g fill="#10e4fc" transform="translate(630.6 182.8)">
<circle r="6.700"/>
<rect x="-1.750" y="-9.400" width="3.500" height="5" rx="1.100" transform="rotate(0)"/>
<rect x="-1.750" y="-9.400" width="3.500" height="5" rx="1.100" transform="rotate(45)"/>
<rect x="-1.750" y="-9.400" width="3.500" height="5" rx="1.100" transform="rotate(90)"/>
<rect x="-1.750" y="-9.400" width="3.500" height="5" rx="1.100" transform="rotate(135)"/>
<rect x="-1.750" y="-9.400" width="3.500" height="5" rx="1.100" transform="rotate(180)"/>
<rect x="-1.750" y="-9.400" width="3.500" height="5" rx="1.100" transform="rotate(225)"/>
<rect x="-1.750" y="-9.400" width="3.500" height="5" rx="1.100" transform="rotate(270)"/>
<rect x="-1.750" y="-9.400" width="3.500" height="5" rx="1.100" transform="rotate(315)"/>
<circle r="3.500" fill="#088cd8"/>
</g>
<g fill="#10e4fc" transform="translate(409.1 285.0)">
<circle r="6.700"/>
<rect x="-1.750" y="-9.400" width="3.500" height="5" rx="1.100" transform="rotate(0)"/>
<rect x="-1.750" y="-9.400" width="3.500" height="5" rx="1.100" transform="rotate(45)"/>
<rect x="-1.750" y="-9.400" width="3.500" height="5" rx="1.100" transform="rotate(90)"/>
<rect x="-1.750" y="-9.400" width="3.500" height="5" rx="1.100" transform="rotate(135)"/>
<rect x="-1.750" y="-9.400" width="3.500" height="5" rx="1.100" transform="rotate(180)"/>
<rect x="-1.750" y="-9.400" width="3.500" height="5" rx="1.100" transform="rotate(225)"/>
<rect x="-1.750" y="-9.400" width="3.500" height="5" rx="1.100" transform="rotate(270)"/>
<rect x="-1.750" y="-9.400" width="3.500" height="5" rx="1.100" transform="rotate(315)"/>
<circle r="3.500" fill="#088cd8"/>
</g>
<rect x="605.500" y="296" width="45.500" height="54" fill="#041a3a"/>
<rect x="613.700" y="304.100" width="28.800" height="38.300" fill="#ffffff"/>
<rect x="618.600" y="310.400" width="18.900" height="25.200" fill="#22d4f5"/>
<circle cx="628" cy="318" r="4" fill="#0a8ad8"/>
<path d="M622.200 335.600V327a2.600 2.600 0 0 1 2.600-2.600h7a2.600 2.600 0 0 1 2.600 2.600V335.600Z" fill="#0a8ad8"/>
<ellipse cx="477.500" cy="350" rx="21" ry="20.500" fill="#0668b4"/>
<circle cx="476.500" cy="347.200" r="21.200" fill="#f1f3f5"/>
<circle cx="476.500" cy="347.200" r="17.600" fill="#a9adb2"/>
<circle cx="477.300" cy="348" r="16.800" fill="#c3c7cb"/>
<g fill="#ffffff"><text x="467.800" y="356.700" font-size="29.500" font-weight="bold" textLength="17.400" lengthAdjust="spacingAndGlyphs" stroke="#ffffff" stroke-width="0.5" style="font-family:'Liberation Serif',serif">B</text>
<rect x="472.600" y="334.200" width="2.100" height="4"/><rect x="477" y="334.200" width="2.100" height="4"/><rect x="472.600" y="355.500" width="2.100" height="4"/><rect x="477" y="355.500" width="2.100" height="4"/></g>
<path d="M571.400 128C571.400 133 571.500 139.500 565 139.500C560 139.500 557 136.500 552 138C547.500 139.500 546.500 142 544.500 145.500" fill="none" stroke="#10e4fc" stroke-width="1.900"/>
<rect x="545.200" y="109" width="50" height="20.100" rx="5.500" fill="#0aa4b6"/>
<rect x="545.200" y="105.700" width="50" height="20.300" rx="5.500" fill="#20e2f6"/>
<path d="M557.900 111V121.200M552.800 116.100H563" stroke="#06122c" stroke-width="5.400" stroke-linecap="round" fill="none"/>
<circle cx="578.100" cy="116.100" r="4.300" fill="#8ff4fb"/>
<circle cx="578.100" cy="116.100" r="3.300" fill="#ffffff"/>
<circle cx="587.500" cy="116.100" r="3.400" fill="#06122c"/>
<g transform="translate(430 145.800) rotate(16.300)">
<rect x="-14.200" y="-19.400" width="28.400" height="38.800" rx="1" fill="#f6f8fa"/>
<path d="M0 -9.100C2.500 -5.500 8.400 -2.500 8.400 1.600C8.400 4 6.500 5.200 4.600 5.200C3 5.200 1.700 4.600 0.900 3.600C1.100 6 2 8 3.600 9.100H-3.600C-2 8 -1.100 6 -0.900 3.600C-1.700 4.600 -3 5.200 -4.600 5.200C-6.500 5.200 -8.400 4 -8.400 1.600C-8.400 -2.500 -2.500 -5.500 0 -9.100Z" fill="#0a1838" transform="scale(0.950)"/>
<text x="9.700" y="-11" font-size="5.500" font-weight="bold" fill="#0a1838" text-anchor="middle">A</text>
<text x="0" y="0" font-size="5.500" font-weight="bold" fill="#0a1838" text-anchor="middle" transform="translate(-9.700 15) rotate(180) translate(0 4)">A</text>
</g>
<clipPath id="bc"><rect transform="translate(430 145.800) rotate(16.300)" x="-14.200" y="-19.400" width="28.400" height="38.800"/></clipPath>
<path d="M404 118H439.300V162.300H404Z" fill="#8f99a4" opacity="0.600" clip-path="url(#bc)"/>
<rect x="404.100" y="118.500" width="30.100" height="39.600" rx="1" fill="#ffffff"/>
<rect x="404.100" y="118.500" width="7" height="39.600" rx="1" fill="#f4f6f9"/>
<path d="M0 -9.100C2.500 -5.500 8.400 -2.500 8.400 1.600C8.400 4 6.500 5.200 4.600 5.200C3 5.200 1.700 4.600 0.900 3.600C1.100 6 2 8 3.600 9.100H-3.600C-2 8 -1.100 6 -0.900 3.600C-1.700 4.600 -3 5.200 -4.600 5.200C-6.500 5.200 -8.400 4 -8.400 1.600C-8.400 -2.500 -2.500 -5.500 0 -9.100Z" fill="#0a1838" transform="translate(419.500 138.100) scale(1)"/>
<text x="429" y="125.600" font-size="5.500" font-weight="bold" fill="#0a1838" text-anchor="middle">A</text>
<text x="0" y="0" font-size="5.500" font-weight="bold" fill="#0a1838" text-anchor="middle" transform="translate(408.700 151.400) rotate(180)">A</text>
</g>
<!-- BOTTOM BAR -->
<rect x="0" y="403" width="700" height="97" fill="#201e1f"/>
<path d="M40.5 425.5H343.5V477L322 462.5H40.5Z" fill="none" stroke="#fff" stroke-width="1.2"/>
<text x="50.5" y="449.6" font-size="17.8" font-weight="bold" fill="#fff" textLength="286.5" lengthAdjust="spacingAndGlyphs">Most Trusted Blockchain Partner.</text>
<!-- LOGO -->
<g id="logo">
<path d="M700 419.600H549.200a23.300 23.300 0 0 0 0 46.600H700Z" fill="#ffffff"/>
<circle cx="556" cy="442.600" r="16.900" fill="url(#sph)"/>
<ellipse cx="549" cy="434.500" rx="7" ry="4.500" fill="#ffffff" opacity="0.280" transform="rotate(-35 549 434.500)"/>
<path d="M543.600 423.300H568.200L567.800 426C564 426.300 562 426.800 560.800 427.700C557 431 554.300 434.500 555.300 438C556.500 442 562.500 444 563 448C563.500 453 558 457.500 555.800 461.800C555.200 457 557.800 452 556.900 448C556 444 549.600 442.500 548.700 438C548 434.500 549.400 430.500 552.500 427.900C551 427 548 426.400 544 426Z" fill="url(#silv)"/>
<text x="577.700" y="443.800" font-size="16.300" fill="url(#shm)" stroke="#2a3080" stroke-width="0.150" textLength="86.800" lengthAdjust="spacingAndGlyphs">SHAMLA</text>
<rect x="578.400" y="446.900" width="85.600" height="0.800" fill="#8a8f98"/>
<text x="578.600" y="453.900" font-size="5.800" font-weight="bold" fill="#666a70" textLength="85.600" lengthAdjust="spacing">TECH SOLUTIONS</text>
<text x="556.300" y="480.900" font-size="10.600" font-weight="bold" fill="#ffffff" textLength="99.300" lengthAdjust="spacingAndGlyphs">www.shamlatech.com</text>
</g>
</svg>
</body></html>
